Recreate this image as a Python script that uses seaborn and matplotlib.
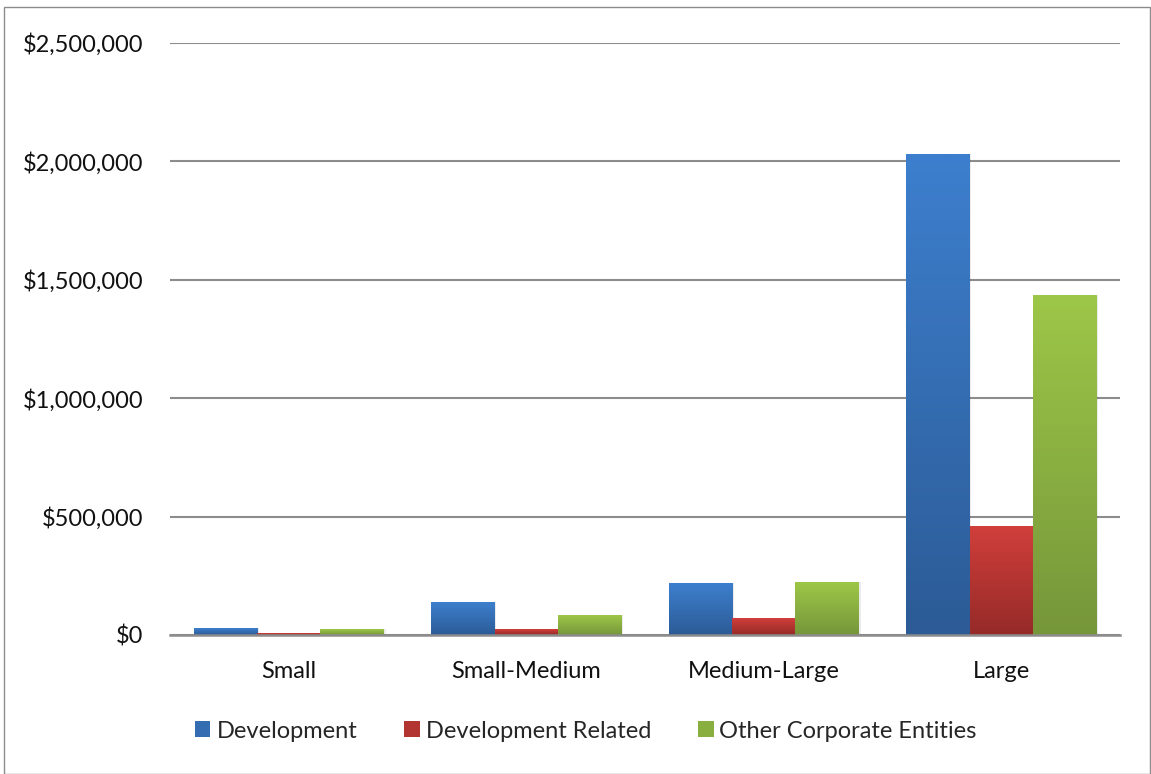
import numpy as np
import pandas as pd
import matplotlib
matplotlib.use("Agg")
import matplotlib.pyplot as plt
import matplotlib.ticker as mticker
from matplotlib.colors import to_rgb
from matplotlib.patches import Rectangle, Patch
import seaborn as sns

categories = ["Small", "Small-Medium", "Medium-Large", "Large"]
series = ["Development", "Development Related", "Other Corporate Entities"]
development = [28000, 138000, 218000, 2030000]
development_related = [8000, 24000, 70000, 459000]
other_corporate = [24000, 83000, 222000, 1435000]
y_ticks = [0, 500000, 1000000, 1500000, 2000000, 2500000]

# gradient colours per series: (top, bottom)
grad = {
    "Development": ("#3D7FCE", "#2C5B96"),
    "Development Related": ("#D13F3B", "#952A28"),
    "Other Corporate Entities": ("#9DC748", "#76963A"),
}

df = pd.DataFrame({
    "category": categories * 3,
    "series": [series[0]] * 4 + [series[1]] * 4 + [series[2]] * 4,
    "value": development + development_related + other_corporate,
})

sns.set_theme(style="white")
plt.rcParams["font.family"] = ["Lato", "DejaVu Sans"]

fig = plt.figure(figsize=(11.51, 7.74), dpi=100)
ax = fig.add_axes([170 / 1151, (774 - 635) / 774, 950 / 1151, (635 - 43) / 774])

mid = {k: tuple((np.array(to_rgb(a)) + np.array(to_rgb(b))) / 2) for k, (a, b) in grad.items()}
sns.barplot(data=df, x="category", y="value", hue="series", order=categories,
            hue_order=series, palette=mid, width=0.8, saturation=1,
            edgecolor="none", ax=ax, legend=False, zorder=3)

# shade each bar with a vertical gradient clipped to the bar outline
bars = [p for p in ax.patches if isinstance(p, Rectangle)]
for i, bar in enumerate(bars):
    s = series[i // len(categories)]
    top, bot = np.array(to_rgb(grad[s][0])), np.array(to_rgb(grad[s][1]))
    t = np.linspace(0, 1, 256)[:, None]
    img = (top[None, :] * (1 - t) + bot[None, :] * t)[:, None, :]
    x0, w, h = bar.get_x(), bar.get_width(), bar.get_height()
    # soft shadow to the right of the bar
    ax.add_patch(Rectangle((x0 + w * 0.03, 0), w, h, facecolor="#000000",
                           alpha=0.08, edgecolor="none", zorder=2))
    im = ax.imshow(img, extent=[x0, x0 + w, 0, h], aspect="auto",
                   origin="upper", zorder=4, interpolation="bilinear")
    im.set_clip_path(bar)

ax.set_xlim(-0.5, 3.5)
ax.set_ylim(0, 2500000)
ax.set_yticks(y_ticks)
ax.yaxis.set_major_formatter(mticker.FuncFormatter(lambda v, p: f"${v:,.0f}"))
ax.grid(axis="y", color="#8C8C8C", linewidth=1.5, zorder=0)
ax.set_axisbelow(True)
for sp in ["left", "right", "top"]:
    ax.spines[sp].set_visible(False)
ax.spines["bottom"].set_color("#8C8C8C")
ax.spines["bottom"].set_linewidth(1.8)
ax.spines["bottom"].set_zorder(5)
ax.tick_params(axis="both", length=0, labelsize=17, colors="#111111")
ax.tick_params(axis="y", pad=19)
ax.tick_params(axis="x", pad=19)
ax.set_xlabel("")
ax.set_ylabel("")

handles = [Patch(facecolor=mid[s], edgecolor="none") for s in series]
fig.legend(handles, series, loc="center", bbox_to_anchor=(586 / 1151, 1 - 731 / 774),
           ncol=3, frameon=False, fontsize=17, handlelength=0.65, handleheight=0.65,
           handletextpad=0.25, columnspacing=2.0)

fig.add_artist(Rectangle((4 / 1151, 0.5 / 774), 1 - 5 / 1151, 1 - 7.5 / 774,
                         transform=fig.transFigure, fill=False,
                         edgecolor="#8C8C8C", linewidth=1))

fig.savefig("out.png", dpi=100, facecolor="white")
